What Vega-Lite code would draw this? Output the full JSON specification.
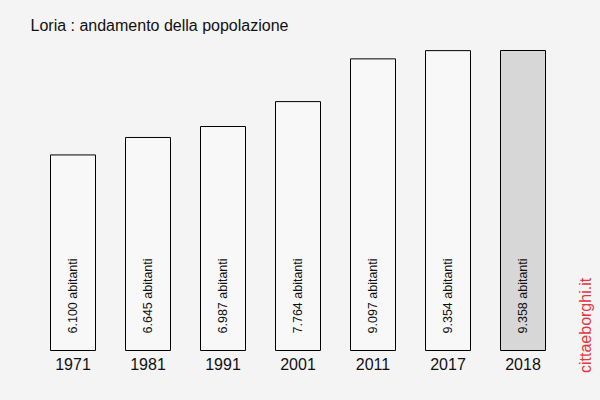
{
  "$schema": "https://vega.github.io/schema/vega-lite/v6.json",
  "autosize": {"type": "none"},
  "width": 525,
  "height": 300,
  "padding": {"left": 35.5, "top": 50.5, "right": 39.5, "bottom": 49.5},
  "background": "#f4f4f4",
  "config": {"view": {"stroke": null}, "font": "Liberation Sans"},
  "title": {"text": "Loria : andamento della popolazione", "anchor": "start", "frame": "group", "dx": -5, "offset": 16, "fontSize": 16, "fontWeight": "normal", "color": "#111111", "font": "Liberation Sans"},
  "data": {"values": [
    {"anno": "1971", "pop": 6100, "label": "6.100 abitanti", "last": "no"},
    {"anno": "1981", "pop": 6645, "label": "6.645 abitanti", "last": "no"},
    {"anno": "1991", "pop": 6987, "label": "6.987 abitanti", "last": "no"},
    {"anno": "2001", "pop": 7764, "label": "7.764 abitanti", "last": "no"},
    {"anno": "2011", "pop": 9097, "label": "9.097 abitanti", "last": "no"},
    {"anno": "2017", "pop": 9354, "label": "9.354 abitanti", "last": "no"},
    {"anno": "2018", "pop": 9358, "label": "9.358 abitanti", "last": "yes"}
  ]},
  "encoding": {
    "x": {"field": "anno", "type": "nominal", "sort": null,
      "scale": {"paddingInner": 0.4, "paddingOuter": 0.2},
      "axis": {"title": null, "labelAngle": 0, "labelFontSize": 16, "labelColor": "#111111", "labelPadding": 6, "ticks": false, "domain": false, "labelFont": "Liberation Sans"}}
  },
  "layer": [
    {
      "mark": {"type": "bar", "stroke": "#000000", "strokeWidth": 1},
      "encoding": {
        "y": {"field": "pop", "type": "quantitative", "scale": {"domain": [0, 9358], "nice": false},
          "axis": {"orient": "right", "title": "cittaeborghi.it", "titleColor": "#e8343c", "titleFontSize": 16, "titleFontWeight": "normal", "titleAngle": 270, "titleAlign": "left", "titleBaseline": "middle", "titleX": 25, "titleY": 322, "labels": false, "ticks": false, "domain": false, "grid": false, "titleFont": "Liberation Sans"}},
        "fill": {"field": "last", "type": "nominal", "scale": {"domain": ["no", "yes"], "range": ["#f8f8f8", "#d7d7d7"]}, "legend": null}
      }
    },
    {
      "mark": {"type": "text", "angle": 270, "align": "left", "baseline": "middle", "dx": 17, "fontSize": 12.5, "color": "#111111", "font": "Liberation Sans"},
      "encoding": {
        "y": {"datum": 0, "type": "quantitative"},
        "text": {"field": "label"}
      }
    }
  ]
}
